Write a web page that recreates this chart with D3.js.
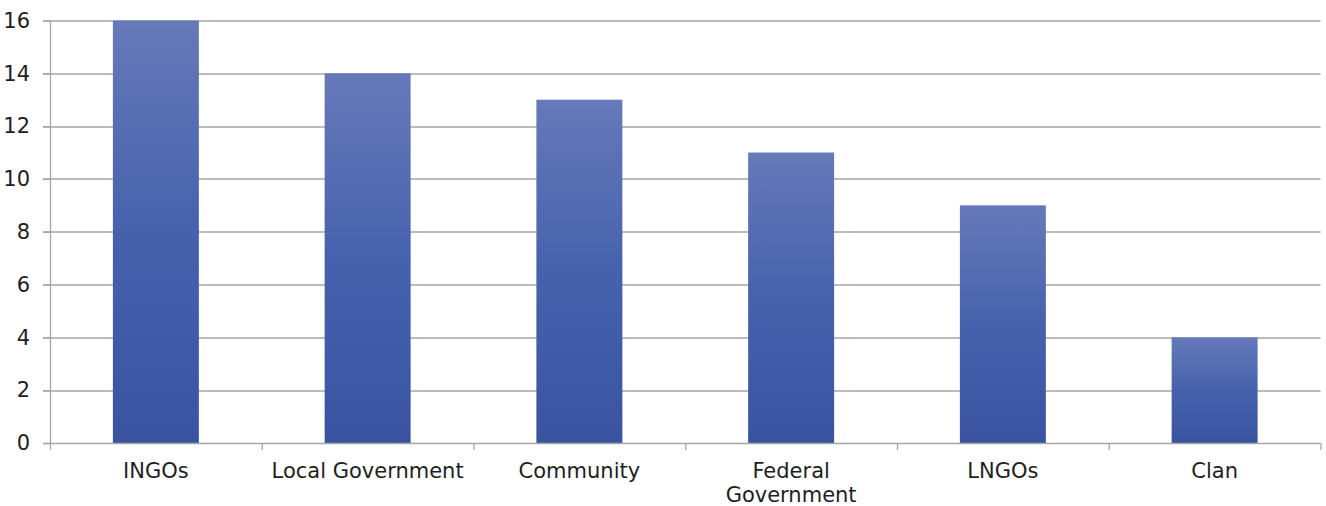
<!DOCTYPE html>
<html>
<head>
<meta charset="utf-8">
<script src="https://cdn.jsdelivr.net/npm/d3@7"></script>
<style>
  html, body { margin: 0; padding: 0; background: #fff; }
  svg text { font-family: "DejaVu Sans", sans-serif; fill: #1e1e1e; }
</style>
</head>
<body>
<svg id="chart" width="1326" height="506"></svg>
<script>
// Categories and counts
const categories = ["INGOs", "Local Government", "Community", "Federal Government", "LNGOs", "Clan"];
const categoryLines = [["INGOs"], ["Local Government"], ["Community"], ["Federal", "Government"], ["LNGOs"], ["Clan"]];
const counts = [16, 14, 13, 11, 9, 4];
const yTicks = [0, 2, 4, 6, 8, 10, 12, 14, 16];

const W = 1326, H = 506;
const margin = { top: 20.5, right: 5.5, bottom: 63, left: 50 };
const innerW = W - margin.left - margin.right;
const innerH = H - margin.top - margin.bottom;

const svg = d3.select("#chart");

const defs = svg.append("defs");
const grad = defs.append("linearGradient")
  .attr("id", "barGrad").attr("x1", 0).attr("y1", 0).attr("x2", 0).attr("y2", 1);
grad.append("stop").attr("offset", "0%").attr("stop-color", "#6679b9");
grad.append("stop").attr("offset", "50%").attr("stop-color", "#4662ad");
grad.append("stop").attr("offset", "100%").attr("stop-color", "#3953a1");

const g = svg.append("g").attr("transform", `translate(${margin.left},${margin.top})`);

const x = d3.scaleBand().domain(categories).range([0, innerW]).paddingInner(0.594).paddingOuter(0.297);
const xCat = d3.scaleBand().domain(categories).range([0, innerW]).padding(0);
const y = d3.scaleLinear().domain([0, 16]).range([innerH, 0]);

// Horizontal gridlines with short ticks extending left of the axis
g.append("g")
  .selectAll("line")
  .data(yTicks.filter(d => d > 0))
  .join("line")
  .attr("x1", -7).attr("x2", innerW)
  .attr("y1", d => Math.round(y(d)) + 0.5).attr("y2", d => Math.round(y(d)) + 0.5)
  .attr("stroke", "#a6a6a6").attr("stroke-width", 1.3);

// Bars
g.append("g")
  .selectAll("rect")
  .data(counts)
  .join("rect")
  .attr("x", (d, i) => x(categories[i]))
  .attr("width", x.bandwidth())
  .attr("y", d => y(d))
  .attr("height", d => innerH - y(d))
  .attr("fill", "url(#barGrad)");

// Y axis
const yAxis = g.append("g")
  .call(d3.axisLeft(y).tickValues(yTicks).tickSize(7).tickPadding(13).tickFormat(d3.format("d")));
yAxis.select(".domain").attr("stroke", "#a6a6a6").attr("stroke-width", 1.3).attr("d", `M0.5,0V${innerH}`);
yAxis.selectAll(".tick line").attr("stroke", "#a6a6a6").attr("stroke-width", 1.3);
yAxis.selectAll(".tick text").attr("font-size", 21).attr("font-family", "DejaVu Sans").attr("fill", "#1e1e1e");

// X axis baseline with category boundary ticks
const xg = g.append("g").attr("transform", `translate(0,${innerH})`);
xg.append("line").attr("x1", -7).attr("x2", innerW).attr("y1", 0.5).attr("y2", 0.5)
  .attr("stroke", "#a6a6a6").attr("stroke-width", 1.3);
xg.selectAll("line.bt")
  .data(d3.range(categories.length + 1))
  .join("line").attr("class", "bt")
  .attr("x1", i => i * xCat.step() + 0.5).attr("x2", i => i * xCat.step() + 0.5)
  .attr("y1", 0).attr("y2", 7)
  .attr("stroke", "#a6a6a6").attr("stroke-width", 1.3);

// Category labels
xg.selectAll("text.cat")
  .data(categoryLines)
  .join("text").attr("class", "cat")
  .attr("text-anchor", "middle")
  .attr("font-size", 21)
  .attr("transform", (d, i) => `translate(${xCat(categories[i]) + xCat.bandwidth() / 2},35)`)
  .selectAll("tspan")
  .data(d => d)
  .join("tspan")
  .attr("x", 0)
  .attr("dy", (d, j) => j === 0 ? 0 : 24)
  .text(d => d);
</script>
</body>
</html>
